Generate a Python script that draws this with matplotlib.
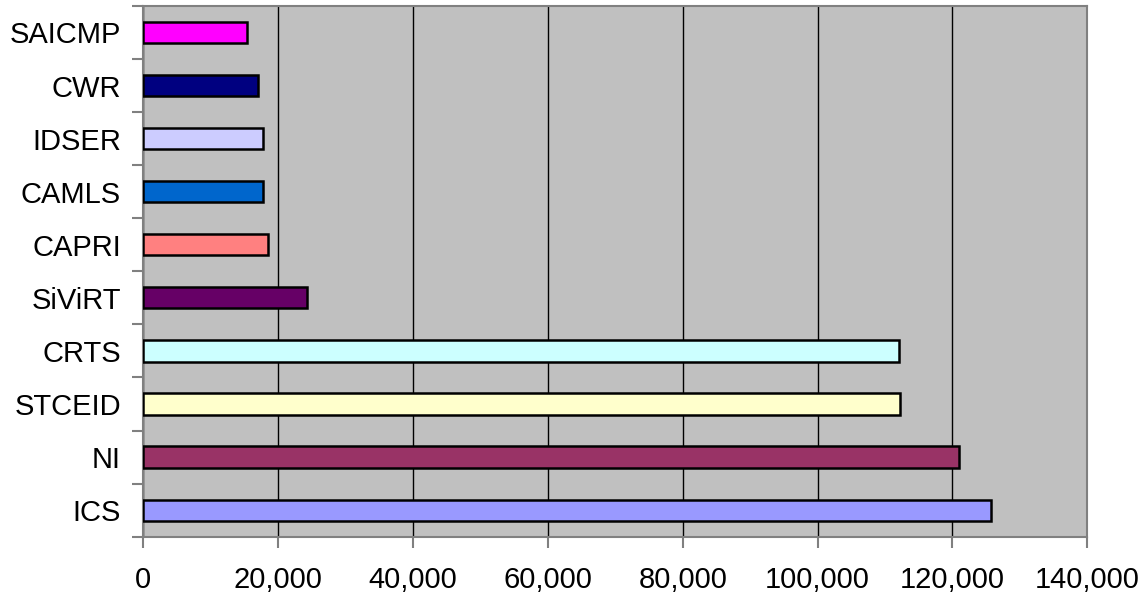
import matplotlib
matplotlib.use("Agg")
import matplotlib.pyplot as plt
import numpy as np
from matplotlib.ticker import FuncFormatter, MultipleLocator

# categories from bottom to top
categorias = ["ICS", "NI", "STCEID", "CRTS", "SiViRT", "CAPRI", "CAMLS", "IDSER", "CWR", "SAICMP"]
valores = [125700, 120900, 112200, 112000, 24300, 18500, 17800, 17700, 17000, 15400]
colores = ["#9999FF", "#993366", "#FFFFCC", "#CCFFFF", "#660066",
           "#FF8080", "#0066CC", "#CCCCFF", "#000080", "#FF00FF"]

plt.rcParams["font.family"] = ["Liberation Sans", "DejaVu Sans"]

fig = plt.figure(figsize=(11.46, 5.94), dpi=100)
ax = fig.add_axes([0.125, 0.0965, 0.8238, 0.8935])
ax.set_facecolor("#C0C0C0")

y = np.arange(len(categorias))
ax.barh(y, valores, height=0.4, color=colores, edgecolor="black", linewidth=1.8, zorder=3)

ax.set_xlim(0, 140000)
ax.set_ylim(-0.5, len(categorias) - 0.5)
ax.xaxis.set_major_locator(MultipleLocator(20000))
ax.xaxis.set_major_formatter(FuncFormatter(lambda v, p: "{:,.0f}".format(v)))
ax.grid(axis="x", color="black", linewidth=1, zorder=1)

# category labels centered, tick marks at boundaries
ax.set_yticks(y)
ax.set_yticklabels(categorias)
ax.set_yticks(np.arange(-0.5, len(categorias)), minor=True)
ax.tick_params(axis="y", which="major", length=0, pad=16, labelsize=21)
ax.tick_params(axis="y", which="minor", length=8, width=1.5, color="#808080")
ax.tick_params(axis="x", which="major", length=8, width=1.5, color="#808080",
               pad=13, labelsize=21)

for lado in ["top", "right", "left", "bottom"]:
    ax.spines[lado].set_color("#808080")
    ax.spines[lado].set_linewidth(1.5)

fig.savefig("out.png", dpi=100)
